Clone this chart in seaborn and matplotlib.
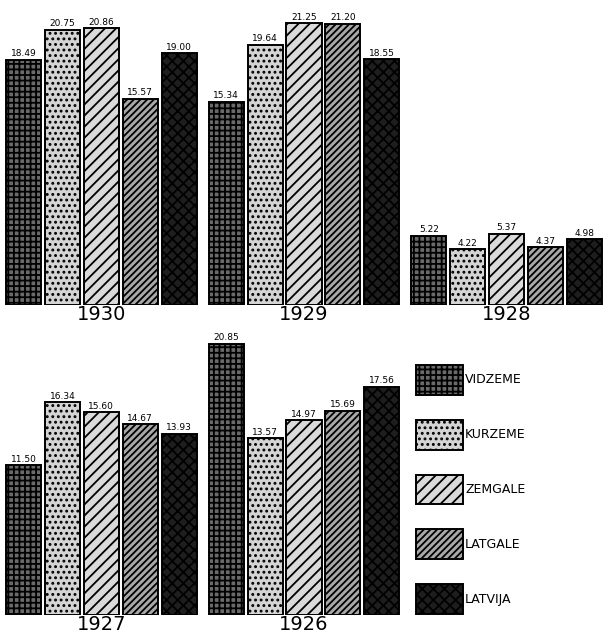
import seaborn as sns
import numpy as np
import pandas as pd
import matplotlib.pyplot as plt

regions = ['VIDZEME', 'KURZEME', 'ZEMGALE', 'LATGALE', 'LATVIJA']
years_top = ['1930', '1929', '1928']
years_bottom = ['1927', '1926']

v1930 = [18.49, 20.75, 20.86, 15.57, 19.00]
v1929 = [15.34, 19.64, 21.25, 21.20, 18.55]
v1928 = [5.22, 4.22, 5.37, 4.37, 4.98]
v1927 = [11.50, 16.34, 15.60, 14.67, 13.93]
v1926 = [20.85, 13.57, 14.97, 15.69, 17.56]

faces = ['#6a6a6a', '#d4d4d4', '#dadada', '#a8a8a8', '#1e1e1e']
hatches = ['+++', '...', '///', '/////', 'xxx']

plt.rcParams['hatch.linewidth'] = 1.3
plt.rcParams['font.family'] = ['DejaVu Sans']


def frame(years, vals):
    rows = []
    for y, vs in zip(years, vals):
        for r, v in zip(regions, vs):
            rows.append({'year': y, 'region': r, 'value': v})
    return pd.DataFrame(rows)


def draw(ax, df, order, top):
    sns.barplot(data=df, x='year', y='value', hue='region', order=order,
                hue_order=regions, palette=faces, saturation=1,
                width=0.96, gap=0.1, edgecolor='black', linewidth=1.4,
                legend=False, ax=ax)
    for cont, fc, h in zip(ax.containers, faces, hatches):
        for p in cont.patches:
            p.set_facecolor(fc)
            p.set_hatch(h)
            p.set_edgecolor('black')
        ax.bar_label(cont, fmt='%.2f', fontsize=6.5, padding=1)
    ax.set_xlim(-0.5, 2.5)
    ax.set_ylim(0, top)
    ax.set_yticks([])
    ax.set_xlabel('')
    ax.set_ylabel('')
    ax.tick_params(axis='x', length=0, pad=0, labelsize=14)
    for s in ax.spines.values():
        s.set_visible(False)


fig = plt.figure(figsize=(6.08, 6.43), dpi=100)
ax1 = fig.add_axes([0, 0.5257, 1, 0.4743])
ax2 = fig.add_axes([0, 0.0435, 1, 0.4432])

draw(ax1, frame(years_top, [v1930, v1929, v1928]), years_top, 23)
draw(ax2, frame(years_bottom, [v1927, v1926]), years_bottom, 21.9)

handles = [c.patches[0] for c in ax2.containers]
ax2.legend(handles, regions, loc='upper left', bbox_to_anchor=(0.684, 0.878),
           frameon=False, fontsize=9, handlelength=3.8, handleheight=3.3,
           labelspacing=2.0, handletextpad=0.15, borderpad=0, borderaxespad=0)

fig.savefig('out.png', dpi=100)
